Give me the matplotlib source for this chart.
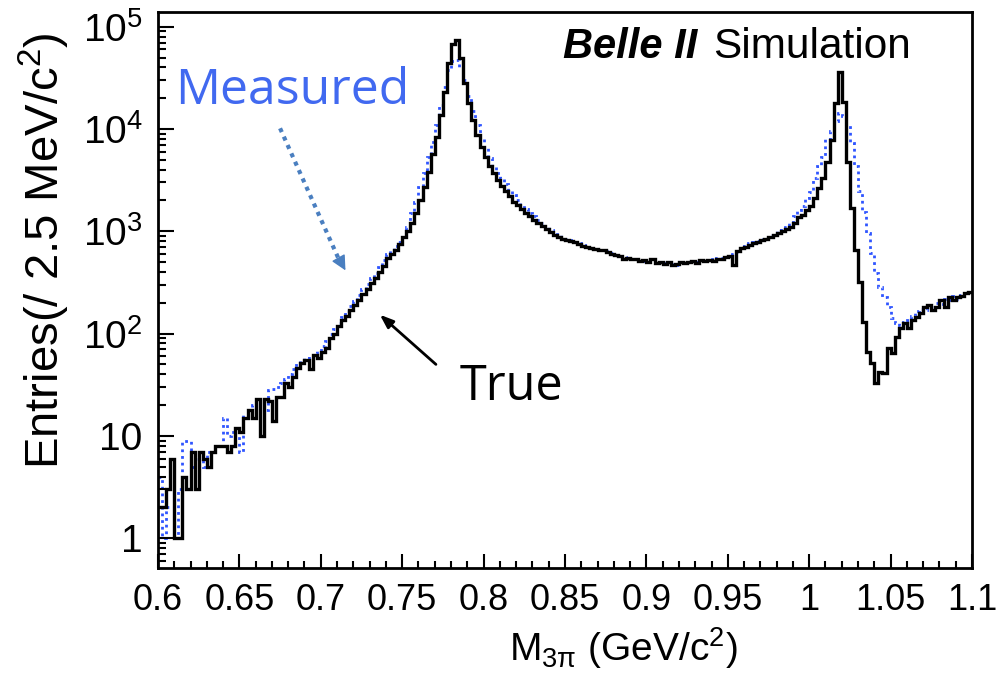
import numpy as np
import matplotlib
matplotlib.use('Agg')
import matplotlib.pyplot as plt
from matplotlib.ticker import FixedLocator, FuncFormatter, NullFormatter, LogLocator

plt.rcParams['font.family'] = ['Liberation Sans', 'DejaVu Sans']
plt.rcParams['mathtext.fontset'] = 'custom'
plt.rcParams['mathtext.rm'] = 'Liberation Sans'
plt.rcParams['mathtext.it'] = 'Liberation Sans:italic'
plt.rcParams['mathtext.bf'] = 'Liberation Sans:bold'

# binning: 200 bins of 2.5 MeV between 0.6 and 1.1 GeV
m_low, m_high, n_bins = 0.6, 1.1, 200

# true M(3pi) distribution (entries per bin)
true_counts = [
    2, 2, 3, 6, 1, 1, 4, 3, 7, 3,
    7, 6, 5, 7, 8, 8, 8, 7, 8, 12,
    11, 15, 18, 15, 23, 10, 23, 22, 14, 24,
    24, 33, 30, 38, 46, 51, 55, 45, 62, 58,
    66, 72, 90, 100, 118, 135, 150, 170, 190, 215,
    245, 275, 310, 350, 400, 460, 550, 600, 650, 750,
    870, 1000, 1200, 1500, 2000, 2700, 3800, 5700, 8300, 13600,
    23000, 44000, 68000, 74000, 49000, 28000, 17800, 12300, 8700, 6700,
    5300, 4300, 3700, 3200, 2800, 2450, 2200, 1950, 1800, 1650,
    1520, 1400, 1300, 1200, 1130, 1050, 990, 930, 880, 850,
    830, 800, 780, 750, 720, 700, 680, 665, 650, 655,
    630, 600, 580, 570, 540, 545, 530, 535, 510, 520,
    505, 530, 495, 500, 480, 505, 470, 480, 500, 490,
    500, 515, 495, 520, 510, 525, 515, 540, 535, 560,
    575, 470, 640, 680, 700, 740, 760, 790, 820, 850,
    880, 915, 960, 1000, 1050, 1100, 1200, 1380, 1450, 1620,
    1750, 2100, 2650, 3300, 4800, 7800, 18000, 36000, 18500, 4800,
    1700, 650, 320, 130, 66, 52, 33, 42, 41, 73,
    64, 93, 113, 126, 113, 135, 145, 158, 183, 190,
    170, 183, 213, 183, 230, 213, 228, 235, 247, 256,
]

# measured (reconstructed) M(3pi) distribution
measured_counts = [
    4, 1, 2, 2, 1, 3, 9, 9, 5, 6,
    6, 5, 7, 7, 8, 8, 15, 10, 11, 12,
    7, 16, 16, 20, 22, 23, 18, 28, 29, 30,
    33, 36, 40, 45, 52, 55, 58, 60, 64, 68,
    75, 85, 100, 112, 128, 145, 165, 185, 210, 240,
    270, 305, 350, 395, 450, 520, 600, 660, 720, 790,
    900, 1100, 1500, 1950, 2700, 3700, 5300, 7500, 11000, 17000,
    26000, 38000, 46000, 47000, 40000, 30000, 21000, 15000, 11000, 8200,
    6500, 5200, 4300, 3700, 3300, 2900, 2500, 2250, 2000, 1800,
    1650, 1500, 1400, 1300, 1200, 1120, 1040, 980, 920, 880,
    850, 820, 790, 760, 735, 710, 690, 670, 660, 640,
    640, 610, 590, 575, 555, 550, 535, 540, 520, 515,
    515, 525, 505, 500, 495, 495, 480, 470, 505, 495,
    510, 510, 505, 525, 515, 530, 525, 545, 550, 565,
    580, 600, 630, 690, 720, 760, 790, 810, 850, 880,
    920, 970, 1020, 1080, 1100, 1200, 1400, 1600, 1750, 2100,
    2400, 3300, 4300, 5300, 7900, 9600, 12000, 14500, 13500, 11000,
    7300, 4300, 2500, 1550, 960, 610, 390, 285, 230, 183,
    141, 126, 120, 130, 135, 150, 165, 175, 170, 190,
    183, 200, 195, 220, 213, 235, 220, 240, 247, 256,
]

x_ticks = [0.6, 0.65, 0.7, 0.75, 0.8, 0.85, 0.9, 0.95, 1.0, 1.05, 1.1]
y_ticks = [1, 10, 100, 1000, 10000, 100000]

edges = np.linspace(m_low, m_high, n_bins + 1)

fig = plt.figure(figsize=(9.96, 6.73), dpi=100)
ax = fig.add_axes([0.1586, 0.156, 0.8173, 0.826])

ax.stairs(measured_counts, edges, baseline=None, color='#2f55ff', lw=2.0,
          linestyle=(0, (1, 1.4)))
ax.stairs(true_counts, edges, baseline=None, color='black', lw=2.4)

ax.set_yscale('log')
ax.set_xlim(m_low, m_high)
ax.set_ylim(0.51, 1.39e5)

# axis ticks in ROOT style
ax.xaxis.set_major_locator(FixedLocator(x_ticks))
ax.xaxis.set_minor_locator(FixedLocator(np.arange(60, 111) / 100.0))
ax.xaxis.set_major_formatter(FuncFormatter(lambda v, p: '%g' % v))
ax.yaxis.set_major_locator(FixedLocator(y_ticks))
ax.yaxis.set_minor_locator(LogLocator(base=10, subs=np.arange(2, 10)))
ax.yaxis.set_minor_formatter(NullFormatter())


def log_label(v, pos):
    n = int(round(np.log10(v)))
    if n == 0:
        return '1'
    if n == 1:
        return '10'
    return '10$^{%d}$' % n


ax.yaxis.set_major_formatter(FuncFormatter(log_label))
ax.tick_params(which='both', direction='in', top=False, right=False, width=1.5)
ax.tick_params(axis='y', which='major', length=11.5, pad=11, labelsize=28)
ax.tick_params(axis='y', which='minor', length=6)
ax.tick_params(axis='x', which='major', length=10, pad=11, labelsize=26)
ax.tick_params(axis='x', which='minor', length=5)
for s in ax.spines.values():
    s.set_linewidth(2)

fig.text(0.045, 0.627, 'Entries(/ 2.5 MeV/c$^{2}$)', rotation=90,
         ha='center', va='center', fontsize=34)
fig.text(0.6255, 0.037, 'M$_{\\mathrm{3\\pi}}$ (GeV/c$^{2}$)', ha='center',
         va='center', fontsize=28)

# experiment label
ax.text(0.4975, 0.917, 'Belle II', transform=ax.transAxes, fontsize=30,
        fontweight='bold', fontstyle='italic', ha='left', va='baseline')
ax.text(0.682, 0.917, 'Simulation', transform=ax.transAxes, fontsize=30.5,
        ha='left', va='baseline')

# annotations
ax.text(0.0209, 0.8345, 'Measured', transform=ax.transAxes, fontsize=36,
        color='#4169f0', family='Open Sans', ha='left', va='baseline')
ax.text(0.371, 0.302, 'True', transform=ax.transAxes, fontsize=35,
        color='black', family='Open Sans', ha='left', va='baseline')

ax.plot([0.150, 0.222], [0.791, 0.556], transform=ax.transAxes,
        color='#4a7fc0', lw=3, linestyle=(0, (1, 1.2)))
ax.annotate('', xy=(0.232, 0.531), xytext=(0.224, 0.552),
            xycoords='axes fraction', textcoords='axes fraction',
            arrowprops=dict(arrowstyle='-|>,head_length=0.9,head_width=0.45',
                            color='#4a7fc0', lw=1))
ax.annotate('', xy=(0.270, 0.459), xytext=(0.344, 0.363),
            xycoords='axes fraction', textcoords='axes fraction',
            arrowprops=dict(arrowstyle='-|>,head_length=0.8,head_width=0.3',
                            color='black', lw=2))

fig.savefig('out.png', dpi=100)
